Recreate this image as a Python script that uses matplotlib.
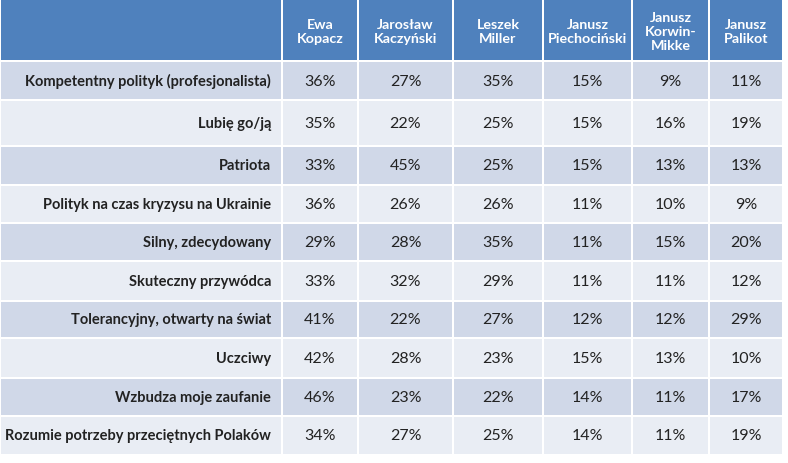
import matplotlib.pyplot as plt
from matplotlib.patches import Rectangle

# kolumny i wiersze tabeli
politycy = ['Ewa\nKopacz', 'Jarosław\nKaczyński', 'Leszek\nMiller', 'Janusz\nPiechociński',
            'Janusz\nKorwin-\nMikke', 'Janusz\nPalikot']
cechy = ['Kompetentny polityk (profesjonalista)', 'Lubię go/ją', 'Patriota',
         'Polityk na czas kryzysu na Ukrainie', 'Silny, zdecydowany', 'Skuteczny przywódca',
         'Tolerancyjny, otwarty na świat', 'Uczciwy', 'Wzbudza moje zaufanie',
         'Rozumie potrzeby przeciętnych Polaków']

kopacz = [36, 35, 33, 36, 29, 33, 41, 42, 46, 34]
kaczynski = [27, 22, 45, 26, 28, 32, 22, 28, 23, 27]
miller = [35, 25, 25, 26, 35, 29, 27, 23, 22, 25]
piechocinski = [15, 15, 15, 11, 11, 11, 12, 15, 14, 14]
korwin = [9, 16, 13, 10, 15, 11, 12, 13, 11, 11]
palikot = [11, 19, 13, 9, 20, 12, 29, 10, 17, 19]
wartosci = [kopacz, kaczynski, miller, piechocinski, korwin, palikot]

# uklad w pikselach (krawedzie kolumn i wierszy)
col_edges = [0, 282, 358, 453, 543, 632, 709, 783]
row_edges = [0, 62, 101, 147, 186, 224, 262, 302, 339, 379, 417, 456]

HEAD = '#4F81BD'
ODD = '#D0D8E8'
EVEN = '#E9EDF4'
TXT = '#222222'
plt.rcParams['font.family'] = ['Lato', 'DejaVu Sans']

fig = plt.figure(figsize=(7.88, 4.64), dpi=100)
ax = fig.add_axes([0, 0, 1, 1])
ax.set_xlim(0, 788)
ax.set_ylim(464, 0)
ax.axis('off')

gap = 1.6
for i in range(len(row_edges) - 1):
    y0, y1 = row_edges[i], row_edges[i + 1]
    if i == 0:
        kolor = HEAD
    else:
        kolor = ODD if i % 2 == 1 else EVEN
    for j in range(len(col_edges) - 1):
        x0, x1 = col_edges[j], col_edges[j + 1]
        ax.add_patch(Rectangle((x0 + gap / 2, y0 + gap / 2), x1 - x0 - gap, y1 - y0 - gap,
                               color=kolor, lw=0))

# naglowek
for j, nazwa in enumerate(politycy):
    xc = (col_edges[j + 1] + col_edges[j + 2]) / 2
    ax.text(xc, 32, nazwa, ha='center', va='center', color='white', fontsize=10.3,
            fontweight='bold', linespacing=1.25)

for i, cecha in enumerate(cechy):
    yc = (row_edges[i + 1] + row_edges[i + 2]) / 2
    ax.text(col_edges[1] - 11, yc, cecha, ha='right', va='center', fontsize=10.5,
            fontweight='bold', color=TXT)
    for j, seria in enumerate(wartosci):
        xc = (col_edges[j + 1] + col_edges[j + 2]) / 2
        ax.text(xc, yc, f'{seria[i]}%', ha='center', va='center', fontsize=11.5, color=TXT)

fig.savefig('out.png', dpi=100, facecolor='white')
